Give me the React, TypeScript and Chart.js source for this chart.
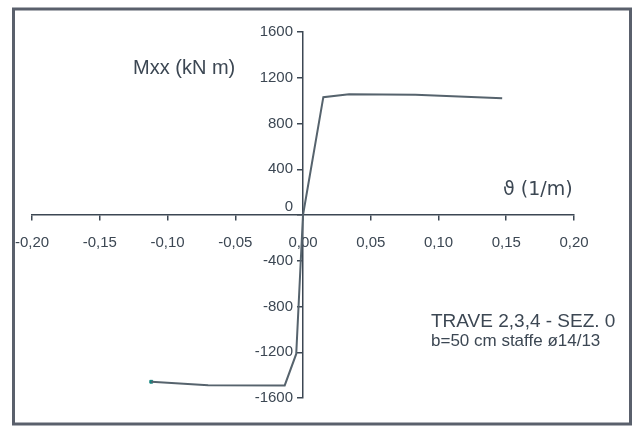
import React, { useEffect, useRef } from "react";
import { Chart, registerables } from "chart.js";

Chart.register(...registerables);

// Curvature (1/m) and moment (kN m) – positive branch
const posTheta = [0, 0.015, 0.034, 0.083, 0.147];
const posMoment = [0, 1030, 1055, 1052, 1020];
// Negative branch
const negTheta = [0, -0.005, -0.0135, -0.07, -0.112];
const negMoment = [0, -1215, -1490, -1488, -1458];

const xTicks = [-0.2, -0.15, -0.1, -0.05, 0, 0.05, 0.1, 0.15, 0.2];
const yTicks = [-1600, -1200, -800, -400, 0, 400, 800, 1200, 1600];

const yTitle = "Mxx (kN m)";
const xTitle = "ϑ (1/m)";
const noteTitle = "TRAVE 2,3,4 - SEZ. 0";
const noteSub = "b=50 cm staffe ø14/13";

const INK = "#3c4753";
const LINE = "#56636d";
const FONT = "'Liberation Sans', Arial, sans-serif";

export default function App() {
  const ref = useRef<HTMLCanvasElement | null>(null);
  useEffect(() => {
    if (!ref.current) return;
    const pos = posTheta.map((x, i) => ({ x, y: posMoment[i] }));
    const neg = negTheta.map((x, i) => ({ x, y: negMoment[i] }));
    const last = neg[neg.length - 1];
    const frame = {
      id: "frame",
      afterDraw(chart: any) {
        const ctx = chart.ctx;
        const ys = chart.scales.y;
        const xs = chart.scales.x;
        const axisX = xs.getPixelForValue(0);
        ctx.save();
        ctx.strokeStyle = "#5a606c";
        ctx.lineWidth = 3;
        ctx.strokeRect(13.5, 9, 617, 415);
        ctx.fillStyle = INK;
        // y tick labels
        ctx.font = "15px " + FONT;
        ctx.textAlign = "right";
        ctx.textBaseline = "middle";
        yTicks.forEach((v) => {
          const py = ys.getPixelForValue(v) + (v === 0 ? -8 : 0);
          ctx.fillText(String(v), axisX - 10, py);
        });
        ctx.textAlign = "left";
        ctx.font = "20px " + FONT;
        ctx.fillText(yTitle, 133, 68);
        ctx.font = "19px 'DejaVu Sans', sans-serif";
        ctx.fillText(xTitle, 503, 190);
        ctx.font = "19px " + FONT;
        ctx.fillText(noteTitle, 431, 322);
        ctx.font = "17px " + FONT;
        ctx.fillText(noteSub, 431, 341);
        ctx.restore();
      },
    };
    const chart = new Chart(ref.current, {
      type: "scatter",
      data: {
        datasets: [
          {
            data: pos,
            showLine: true,
            borderColor: LINE,
            borderWidth: 2,
            pointRadius: 0,
          },
          {
            data: neg,
            showLine: true,
            borderColor: LINE,
            borderWidth: 2,
            pointRadius: 0,
          },
          {
            data: [last],
            showLine: false,
            pointStyle: "rect",
            pointRadius: 2,
            backgroundColor: "#14857f",
            borderColor: "#14857f",
          },
        ],
      },
      options: {
        animation: false,
        responsive: false,
        layout: { padding: { left: 32, right: 60, top: 32, bottom: 32 } },
        plugins: { legend: { display: false }, tooltip: { enabled: false } },
        scales: {
          x: {
            type: "linear",
            position: { y: 0 } as any,
            min: -0.2,
            max: 0.2,
            afterBuildTicks: (s: any) => {
              s.ticks = xTicks.map((v) => ({ value: v }));
            },
            grid: { drawOnChartArea: false, drawTicks: true, tickLength: 5, color: INK, lineWidth: 1.5 },
            border: { display: true, color: INK, width: 1.5 },
            ticks: {
              color: INK,
              padding: 14,
              maxRotation: 0,
              autoSkip: false,
              font: { family: FONT, size: 15 },
              callback: (v: any) => Number(v).toFixed(2).replace(".", ","),
            },
          },
          y: {
            type: "linear",
            position: { x: 0 } as any,
            min: -1600,
            max: 1600,
            afterBuildTicks: (s: any) => {
              s.ticks = yTicks.map((v) => ({ value: v }));
            },
            grid: { drawOnChartArea: false, drawTicks: true, tickLength: 5, color: INK, lineWidth: 1.5 },
            border: { display: true, color: INK, width: 1.5 },
            ticks: {
              color: "rgba(0,0,0,0)",
              autoSkip: false,
              font: { family: FONT, size: 15 },
              callback: (v: any) => String(v),
            },
          },
        },
      },
      plugins: [frame],
    });
    return () => chart.destroy();
  }, []);
  return (
    <div style={{ position: "absolute", left: 0, top: 0, width: 634, height: 430, background: "#fff" }}>
      <canvas ref={ref} width={634} height={430} style={{ display: "block" }} />
    </div>
  );
}
